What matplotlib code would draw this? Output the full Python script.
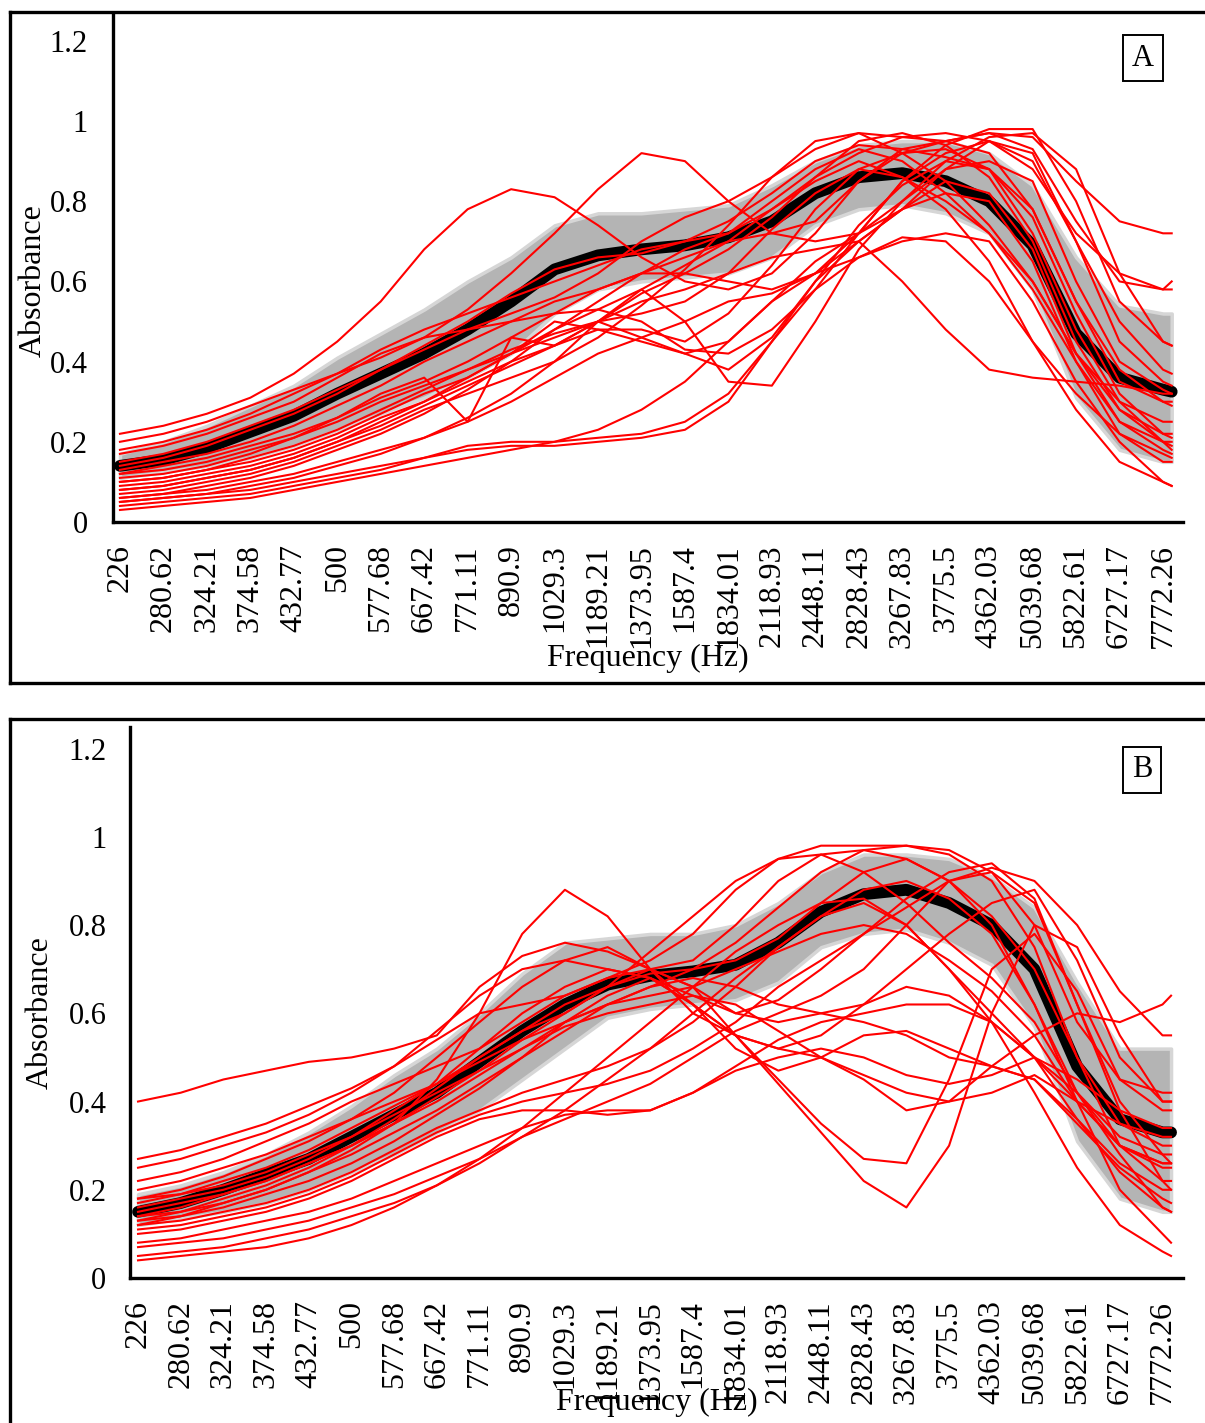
import numpy as np
import matplotlib
matplotlib.use("Agg")
import matplotlib.pyplot as plt
from matplotlib.lines import Line2D

plt.rcParams['font.family'] = ['Liberation Serif', 'DejaVu Serif']

# ---------------- data ----------------
freq_labels = ["226", "280.62", "324.21", "374.58", "432.77", "500", "577.68", "667.42",
               "771.11", "890.9", "1029.3", "1189.21", "1373.95", "1587.4", "1834.01",
               "2118.93", "2448.11", "2828.43", "3267.83", "3775.5", "4362.03", "5039.68",
               "5822.61", "6727.17", "7772.26"]
n_categories = 122                     # 1/24-octave categories, 226 Hz .. 8000 Hz
label_step = 5                         # a label every 5th category
sample_idx = list(range(0, 121, 5)) + [121]   # categories where values were read

# Panel A
meanA = [0.14, 0.155, 0.185, 0.225, 0.265, 0.32, 0.37, 0.42, 0.48, 0.55, 0.63, 0.665, 0.68,
         0.69, 0.71, 0.75, 0.82, 0.86, 0.87, 0.85, 0.80, 0.69, 0.47, 0.36, 0.33, 0.325]
lowA = [0.11, 0.125, 0.14, 0.16, 0.19, 0.23, 0.27, 0.31, 0.36, 0.42, 0.52, 0.58, 0.60,
        0.61, 0.62, 0.66, 0.74, 0.78, 0.79, 0.77, 0.72, 0.58, 0.31, 0.18, 0.15, 0.15]
highA = [0.17, 0.20, 0.24, 0.29, 0.34, 0.41, 0.47, 0.53, 0.60, 0.66, 0.74, 0.77, 0.77,
         0.78, 0.79, 0.84, 0.90, 0.94, 0.95, 0.95, 0.92, 0.84, 0.66, 0.54, 0.52, 0.52]
earsA = [
    [0.22,0.24,0.27,0.31,0.37,0.45,0.55,0.68,0.78,0.83,0.81,0.74,0.66,0.60,0.58,0.62,0.72,0.85,0.93,0.95,0.92,0.78,0.55,0.38,0.30,0.29],
    [0.20,0.22,0.25,0.29,0.33,0.37,0.41,0.46,0.53,0.62,0.72,0.83,0.92,0.90,0.80,0.72,0.75,0.85,0.92,0.95,0.97,0.93,0.75,0.60,0.58,0.58],
    [0.15,0.17,0.20,0.24,0.28,0.33,0.38,0.43,0.48,0.52,0.56,0.62,0.70,0.76,0.80,0.86,0.93,0.97,0.96,0.95,0.97,0.96,0.85,0.75,0.72,0.72],
    [0.14,0.16,0.19,0.23,0.27,0.32,0.38,0.44,0.50,0.57,0.63,0.66,0.67,0.70,0.75,0.82,0.90,0.94,0.93,0.91,0.88,0.78,0.55,0.35,0.30,0.30],
    [0.05,0.06,0.07,0.08,0.10,0.12,0.14,0.16,0.18,0.19,0.19,0.20,0.21,0.23,0.30,0.45,0.58,0.66,0.71,0.70,0.60,0.45,0.32,0.22,0.17,0.16],
    [0.08,0.09,0.11,0.13,0.16,0.20,0.25,0.30,0.36,0.42,0.48,0.53,0.58,0.50,0.35,0.34,0.50,0.68,0.80,0.88,0.90,0.85,0.60,0.40,0.33,0.32],
    [0.10,0.11,0.13,0.15,0.18,0.22,0.27,0.32,0.36,0.42,0.50,0.48,0.45,0.42,0.45,0.55,0.65,0.72,0.80,0.90,0.96,0.97,0.88,0.62,0.45,0.44],
    [0.12,0.13,0.15,0.18,0.21,0.26,0.32,0.36,0.25,0.46,0.44,0.50,0.46,0.50,0.55,0.57,0.62,0.70,0.78,0.85,0.82,0.68,0.42,0.25,0.20,0.20],
    [0.06,0.07,0.09,0.11,0.14,0.18,0.22,0.27,0.33,0.40,0.48,0.55,0.62,0.68,0.72,0.80,0.88,0.93,0.90,0.82,0.72,0.58,0.40,0.25,0.18,0.17],
    [0.09,0.10,0.12,0.14,0.17,0.21,0.26,0.30,0.35,0.40,0.44,0.50,0.57,0.62,0.68,0.76,0.86,0.95,0.97,0.94,0.86,0.70,0.45,0.28,0.22,0.22],
    [0.04,0.05,0.06,0.07,0.09,0.11,0.13,0.16,0.19,0.20,0.20,0.21,0.22,0.25,0.32,0.45,0.60,0.70,0.78,0.88,0.95,0.92,0.70,0.45,0.35,0.34],
    [0.13,0.15,0.17,0.20,0.24,0.29,0.34,0.40,0.45,0.50,0.55,0.58,0.62,0.66,0.70,0.72,0.70,0.72,0.78,0.82,0.80,0.65,0.40,0.22,0.15,0.15],
    [0.07,0.08,0.10,0.12,0.15,0.19,0.23,0.28,0.32,0.36,0.40,0.46,0.54,0.63,0.74,0.86,0.95,0.97,0.92,0.85,0.74,0.60,0.42,0.28,0.20,0.19],
    [0.11,0.12,0.14,0.17,0.21,0.25,0.30,0.34,0.38,0.42,0.46,0.50,0.55,0.58,0.62,0.66,0.68,0.70,0.60,0.48,0.38,0.36,0.35,0.34,0.32,0.32],
    [0.17,0.19,0.22,0.26,0.30,0.36,0.42,0.46,0.48,0.50,0.52,0.53,0.50,0.43,0.42,0.48,0.58,0.72,0.85,0.92,0.95,0.90,0.70,0.50,0.38,0.37],
    [0.03,0.04,0.05,0.06,0.08,0.10,0.12,0.14,0.16,0.18,0.20,0.23,0.28,0.35,0.45,0.55,0.62,0.66,0.70,0.72,0.70,0.55,0.35,0.20,0.10,0.09],
    [0.18,0.20,0.23,0.27,0.32,0.37,0.43,0.48,0.52,0.56,0.60,0.64,0.68,0.70,0.72,0.78,0.86,0.92,0.96,0.97,0.95,0.88,0.72,0.62,0.58,0.60],
    [0.10,0.11,0.13,0.16,0.19,0.23,0.28,0.33,0.38,0.43,0.47,0.50,0.52,0.55,0.62,0.73,0.82,0.88,0.86,0.80,0.72,0.60,0.42,0.30,0.25,0.25],
    [0.08,0.09,0.11,0.13,0.16,0.20,0.24,0.29,0.34,0.39,0.44,0.48,0.48,0.45,0.52,0.64,0.78,0.88,0.92,0.93,0.88,0.72,0.48,0.30,0.20,0.18],
    [0.12,0.14,0.16,0.19,0.22,0.26,0.31,0.35,0.40,0.46,0.52,0.58,0.62,0.62,0.60,0.58,0.62,0.72,0.85,0.94,0.98,0.98,0.80,0.55,0.45,0.44],
    [0.06,0.07,0.08,0.10,0.12,0.15,0.18,0.21,0.25,0.30,0.36,0.42,0.46,0.42,0.38,0.46,0.60,0.74,0.84,0.90,0.88,0.76,0.52,0.32,0.22,0.21],
    [0.05,0.06,0.07,0.09,0.11,0.14,0.17,0.21,0.26,0.32,0.40,0.50,0.58,0.64,0.70,0.78,0.85,0.90,0.86,0.78,0.65,0.45,0.28,0.15,0.10,0.09],
]

# Panel B
meanB = [0.15, 0.17, 0.20, 0.235, 0.27, 0.32, 0.37, 0.42, 0.49, 0.56, 0.62, 0.665, 0.685,
         0.695, 0.71, 0.76, 0.83, 0.87, 0.88, 0.85, 0.80, 0.70, 0.48, 0.36, 0.33, 0.33]
lowB = [0.12, 0.135, 0.15, 0.17, 0.20, 0.24, 0.28, 0.33, 0.38, 0.45, 0.52, 0.59, 0.61,
        0.62, 0.63, 0.67, 0.75, 0.78, 0.79, 0.76, 0.71, 0.57, 0.31, 0.18, 0.15, 0.15]
highB = [0.19, 0.21, 0.24, 0.28, 0.33, 0.39, 0.46, 0.52, 0.60, 0.69, 0.76, 0.77, 0.78,
         0.78, 0.80, 0.85, 0.92, 0.96, 0.96, 0.95, 0.91, 0.84, 0.67, 0.52, 0.52, 0.52]
earsB = [
    [0.40,0.42,0.45,0.47,0.49,0.50,0.52,0.55,0.66,0.73,0.76,0.74,0.70,0.72,0.80,0.90,0.96,0.97,0.95,0.90,0.80,0.62,0.42,0.32,0.28,0.28],
    [0.12,0.14,0.17,0.20,0.24,0.29,0.35,0.45,0.60,0.78,0.88,0.82,0.70,0.60,0.55,0.52,0.50,0.45,0.38,0.40,0.48,0.45,0.35,0.25,0.18,0.17],
    [0.18,0.20,0.23,0.27,0.31,0.36,0.42,0.50,0.58,0.66,0.72,0.75,0.70,0.62,0.55,0.45,0.35,0.27,0.26,0.45,0.70,0.78,0.65,0.45,0.38,0.38],
    [0.14,0.16,0.19,0.22,0.26,0.30,0.35,0.41,0.47,0.54,0.60,0.66,0.70,0.66,0.55,0.44,0.33,0.22,0.16,0.30,0.60,0.80,0.75,0.55,0.40,0.40],
    [0.27,0.29,0.32,0.35,0.39,0.43,0.48,0.56,0.64,0.70,0.72,0.70,0.68,0.64,0.60,0.58,0.60,0.58,0.55,0.50,0.48,0.55,0.60,0.58,0.62,0.64],
    [0.25,0.27,0.30,0.33,0.37,0.42,0.48,0.54,0.60,0.62,0.64,0.68,0.72,0.78,0.88,0.95,0.98,0.98,0.98,0.97,0.92,0.80,0.58,0.45,0.42,0.42],
    [0.22,0.24,0.27,0.31,0.35,0.40,0.44,0.48,0.52,0.58,0.64,0.68,0.70,0.66,0.60,0.63,0.70,0.78,0.84,0.90,0.93,0.90,0.80,0.65,0.55,0.55],
    [0.20,0.22,0.25,0.28,0.32,0.36,0.40,0.44,0.50,0.56,0.62,0.66,0.69,0.70,0.72,0.77,0.85,0.92,0.95,0.90,0.82,0.70,0.50,0.35,0.30,0.30],
    [0.17,0.19,0.22,0.25,0.29,0.34,0.39,0.44,0.49,0.54,0.58,0.62,0.64,0.66,0.70,0.74,0.78,0.80,0.78,0.72,0.65,0.55,0.40,0.30,0.26,0.26],
    [0.16,0.18,0.20,0.23,0.27,0.32,0.38,0.44,0.52,0.60,0.66,0.70,0.68,0.62,0.55,0.52,0.55,0.62,0.70,0.78,0.85,0.88,0.72,0.50,0.40,0.40],
    [0.15,0.17,0.19,0.22,0.26,0.30,0.35,0.40,0.46,0.52,0.58,0.62,0.66,0.70,0.76,0.84,0.92,0.97,0.98,0.96,0.90,0.75,0.50,0.30,0.22,0.22],
    [0.14,0.15,0.17,0.20,0.24,0.28,0.33,0.38,0.44,0.50,0.56,0.62,0.66,0.68,0.66,0.62,0.60,0.62,0.66,0.64,0.58,0.50,0.45,0.38,0.34,0.34],
    [0.13,0.14,0.16,0.19,0.22,0.26,0.31,0.37,0.43,0.50,0.58,0.64,0.68,0.62,0.52,0.47,0.50,0.55,0.56,0.52,0.48,0.45,0.36,0.26,0.20,0.20],
    [0.12,0.13,0.15,0.17,0.20,0.24,0.29,0.34,0.38,0.42,0.45,0.48,0.52,0.58,0.66,0.75,0.82,0.85,0.80,0.70,0.60,0.50,0.36,0.24,0.16,0.15],
    [0.11,0.12,0.14,0.16,0.19,0.23,0.28,0.33,0.37,0.40,0.42,0.44,0.47,0.52,0.58,0.66,0.72,0.78,0.86,0.92,0.94,0.86,0.62,0.40,0.28,0.26],
    [0.10,0.11,0.13,0.15,0.18,0.22,0.27,0.32,0.36,0.38,0.38,0.37,0.38,0.42,0.48,0.54,0.58,0.60,0.62,0.62,0.58,0.50,0.40,0.30,0.25,0.25],
    [0.08,0.09,0.11,0.13,0.15,0.18,0.22,0.26,0.30,0.34,0.37,0.38,0.38,0.42,0.47,0.50,0.52,0.50,0.46,0.44,0.46,0.50,0.42,0.28,0.16,0.15],
    [0.07,0.08,0.09,0.11,0.13,0.16,0.19,0.23,0.27,0.32,0.36,0.40,0.44,0.50,0.56,0.60,0.64,0.70,0.80,0.90,0.92,0.85,0.62,0.38,0.22,0.20],
    [0.05,0.06,0.07,0.09,0.11,0.14,0.17,0.21,0.26,0.32,0.38,0.45,0.52,0.60,0.68,0.75,0.82,0.88,0.90,0.86,0.78,0.62,0.40,0.20,0.10,0.08],
    [0.04,0.05,0.06,0.07,0.09,0.12,0.16,0.21,0.27,0.34,0.42,0.50,0.58,0.66,0.74,0.80,0.85,0.86,0.80,0.70,0.58,0.42,0.25,0.12,0.06,0.05],
    [0.18,0.19,0.21,0.24,0.28,0.32,0.37,0.42,0.47,0.52,0.57,0.60,0.62,0.64,0.62,0.56,0.50,0.46,0.42,0.40,0.42,0.46,0.40,0.35,0.32,0.32],
    [0.13,0.15,0.18,0.21,0.25,0.30,0.36,0.43,0.50,0.56,0.60,0.66,0.74,0.82,0.90,0.95,0.96,0.92,0.85,0.76,0.68,0.58,0.42,0.30,0.26,0.26],
]

y_ticks = [0, 0.2, 0.4, 0.6, 0.8, 1, 1.2]
y_ticklabels = ["0", "0.2", "0.4", "0.6", "0.8", "1", "1.2"]

# ---------------- figure ----------------
W, H = 1205, 1423
fig = plt.figure(figsize=(W / 100, H / 100), dpi=100)

def fx(px):
    return px / W

def fy(py):
    return 1 - py / H

# outer panel frames
for (xs, ys) in [([10, 10], [12, 683]), ([10, 1300], [12, 12]), ([10, 1300], [683, 683]),
                 ([10, 10], [719, 1430]), ([10, 1300], [719, 719])]:
    fig.add_artist(Line2D([fx(x) for x in xs], [fy(y) for y in ys], color='black', lw=2.4,
                          transform=fig.transFigure, solid_capstyle='projecting'))

panels = [
    dict(rect=[fx(113), fy(522), fx(1183) - fx(113), fy(14) - fy(522)], ylim=(0, 1.267),
         xlim=(-0.8, 122.3), mean=meanA, low=lowA, high=highA, ears=earsA, tag="A",
         tagpos=(0.9626, 0.913), ylab_x=-0.061, ylab_y=0.476, ypad=18, xlabpad=-3),
    dict(rect=[fx(130), fy(1278), fx(1183) - fx(130), fy(727) - fy(1278)], ylim=(0, 1.249),
         xlim=(-0.94, 122.4), mean=meanB, low=lowB, high=highB, ears=earsB, tag="B",
         tagpos=(0.961, 0.922), ylab_x=-0.071, ylab_y=0.481, ypad=17, xlabpad=-12),
]

tick_pos = [i * label_step for i in range(len(freq_labels))]
x = np.array(sample_idx)

for p in panels:
    ax = fig.add_axes(p['rect'])
    ax.fill_between(x, p['low'], p['high'], color='#b4b4b4', edgecolor='#d6d6d6', lw=2.5, zorder=1)
    ax.plot(x, p['mean'], color='black', lw=8.5, solid_capstyle='round', solid_joinstyle='round', zorder=2)
    for e in p['ears']:
        ax.plot(x, e, color='#ff0000', lw=1.5, zorder=3)
    ax.set_xlim(*p['xlim'])
    ax.set_ylim(*p['ylim'])
    ax.set_xticks(tick_pos)
    ax.set_xticklabels(freq_labels, rotation=90, fontsize=23)
    ax.set_yticks(y_ticks)
    ax.set_yticklabels(y_ticklabels, fontsize=22)
    ax.tick_params(axis='both', length=0)
    ax.tick_params(axis='y', pad=p['ypad'])
    ax.tick_params(axis='x', pad=16)
    for s in ['top', 'right']:
        ax.spines[s].set_visible(False)
    for s in ['left', 'bottom']:
        ax.spines[s].set_linewidth(2.4)
    ax.set_xlabel("Frequency (Hz)", fontsize=23, labelpad=p['xlabpad'])
    ax.set_ylabel("Absorbance", fontsize=23)
    ax.yaxis.set_label_coords(p['ylab_x'], p['ylab_y'])
    ax.text(p['tagpos'][0], p['tagpos'][1], p['tag'], transform=ax.transAxes, fontsize=22,
            ha='center', va='center',
            bbox=dict(boxstyle='square,pad=0.28', fc='white', ec='black', lw=1.4))

fig.savefig("out.png", dpi=100)
